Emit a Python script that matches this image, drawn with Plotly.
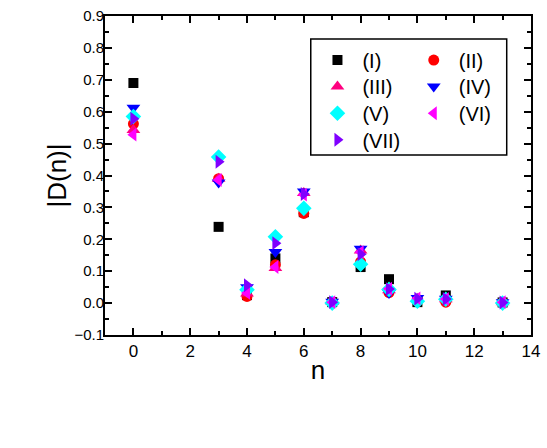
import plotly.graph_objects as go

# ── Data ───────────────────────────────────────────────────
n_values = [0, 3, 4, 5, 6, 7, 8, 9, 10, 11, 13]

d_I   = [0.690, 0.239, 0.025, 0.140, 0.285, 0.003, 0.113, 0.075, 0.003, 0.024, 0.002]
d_II  = [0.562, 0.390, 0.021, 0.120, 0.281, 0.003, 0.129, 0.033, 0.012, 0.003, 0.002]
d_III = [0.543, 0.390, 0.030, 0.110, 0.345, 0.004, 0.165, 0.040, 0.014, 0.012, 0.003]
d_IV  = [0.612, 0.378, 0.050, 0.160, 0.350, 0.004, 0.170, 0.032, 0.016, 0.014, 0.003]
d_V   = [0.585, 0.458, 0.042, 0.208, 0.297, 0.000, 0.122, 0.043, 0.006, 0.012, 0.000]
d_VI  = [0.528, 0.386, 0.032, 0.113, 0.340, 0.003, 0.160, 0.045, 0.015, 0.013, 0.003]
d_VII = [0.578, 0.443, 0.056, 0.188, 0.342, 0.003, 0.153, 0.044, 0.014, 0.013, 0.002]

series_names = ["(I)", "(II)", "(III)", "(IV)", "(V)", "(VI)", "(VII)"]
x_ticks = [0, 2, 4, 6, 8, 10, 12, 14]
y_ticks = [-0.1, 0.0, 0.1, 0.2, 0.3, 0.4, 0.5, 0.6, 0.7, 0.8, 0.9]

FONT = "Liberation Sans, Arial, sans-serif"

# values, symbol, colour, marker size
styles = [
    (d_I,   "square",         "#000000", 10),
    (d_II,  "circle",         "#FF0000", 11),
    (d_III, "triangle-up",    "#FF0080", 12),
    (d_IV,  "triangle-down",  "#0000FF", 12),
    (d_V,   "diamond",        "#00FFFF", 12),
    (d_VI,  "triangle-left",  "#FF00FF", 12),
    (d_VII, "triangle-right", "#8000FF", 12),
]

# legend grid: two columns, four rows (paper coords)
leg_cols = [0.487, 0.713]
leg_rows = [0.862, 0.779, 0.695, 0.612]

fig = go.Figure()
legends = {}

for i, (name, (vals, sym, col, size)) in enumerate(zip(series_names, styles)):
    key = "legend" if i == 0 else f"legend{i + 1}"
    fig.add_trace(go.Scatter(
        x=n_values, y=vals, mode="markers", name=name, legend=key,
        showlegend=True,
        marker=dict(symbol=sym, color=col, size=size, line=dict(width=0)),
    ))
    legends[key] = dict(
        x=leg_cols[i % 2], y=leg_rows[i // 2],
        xanchor="left", yanchor="middle",
        font=dict(family=FONT, size=20, color="black"),
        bgcolor="rgba(0,0,0,0)", borderwidth=0, itemwidth=40,
    )

# ── Layout ─────────────────────────────────────────────────
axis_common = dict(
    showline=True, linecolor="black", linewidth=2, mirror="allticks",
    ticks="inside", ticklen=7, tickwidth=1.5, tickcolor="black",
    showgrid=False, zeroline=False,
)
minor_common = dict(ticks="inside", ticklen=4, tickwidth=1.5, tickcolor="black")

fig.update_layout(
    width=547, height=448,
    margin=dict(l=105, r=16, t=16, b=113, autoexpand=False),
    paper_bgcolor="white", plot_bgcolor="white",
    font=dict(family=FONT, color="black"),
    showlegend=True,
    xaxis=dict(
        axis_common, range=[-1, 14], tickvals=x_ticks,
        tickfont=dict(family=FONT, size=17, color="black"),
        minor=dict(minor_common, dtick=1, tick0=0),
        title=dict(text="n", font=dict(family=FONT, size=26), standoff=0),
        ticklabelstandoff=0,
    ),
    yaxis=dict(
        axis_common, range=[-0.1, 0.9], tickvals=y_ticks, tickformat=".1f",
        tickfont=dict(family=FONT, size=15, color="black"),
        minor=dict(minor_common, dtick=0.05, tick0=0),
        title=dict(text="|D(n)|", font=dict(family=FONT, size=26), standoff=0),
        ticklabelstandoff=-4,
    ),
    shapes=[dict(type="rect", xref="paper", yref="paper",
                 x0=0.483, x1=0.943, y0=0.564, y1=0.928,
                 line=dict(color="black", width=1.5))],
    **legends,
)

fig.write_html("out.html", config={"displayModeBar": False},
               post_script="document.body.style.margin='0';")
